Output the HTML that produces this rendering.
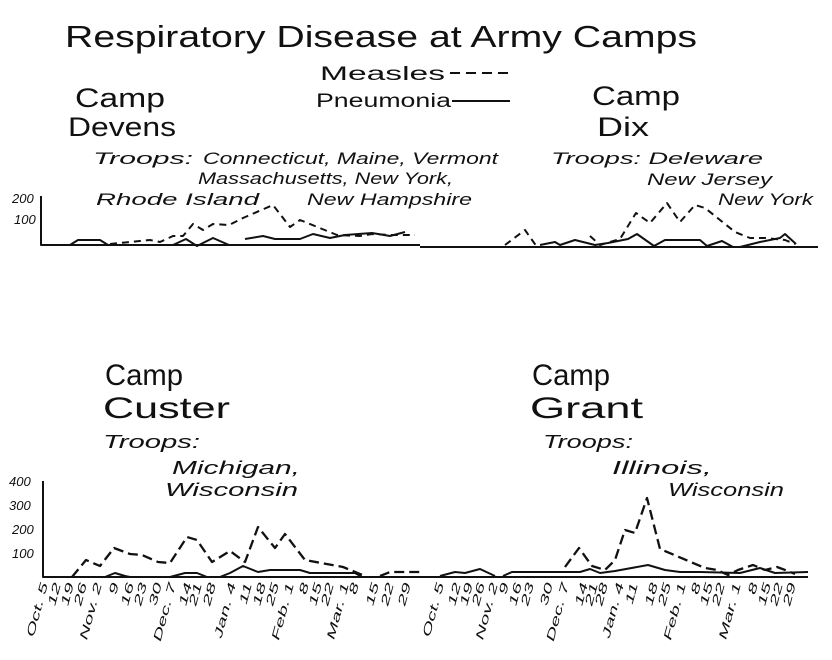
<!DOCTYPE html>
<html><head><style>
body{margin:0;background:#fff}
svg{display:block}
text{font-family:"Liberation Sans",sans-serif;fill:#111}
.it{font-style:italic}
</style></head><body>
<svg width="832" height="660" viewBox="0 0 832 660" xmlns="http://www.w3.org/2000/svg">
<text x="65" y="47" font-size="31" textLength="632" lengthAdjust="spacingAndGlyphs">Respiratory Disease at Army Camps</text>
<text x="320" y="80" font-size="19" textLength="125" lengthAdjust="spacingAndGlyphs">Measles</text>
<line x1="450" y1="73" x2="510" y2="73" stroke="#111" stroke-width="2" stroke-dasharray="10,6"/>
<text x="316" y="107" font-size="19" textLength="135" lengthAdjust="spacingAndGlyphs">Pneumonia</text>
<line x1="452" y1="101" x2="510" y2="101" stroke="#111" stroke-width="2"/>

<text x="75" y="107" font-size="27" textLength="90" lengthAdjust="spacingAndGlyphs">Camp</text>
<text x="68" y="136" font-size="27" textLength="108" lengthAdjust="spacingAndGlyphs">Devens</text>
<text x="592" y="105" font-size="27" textLength="88" lengthAdjust="spacingAndGlyphs">Camp</text>
<text x="597" y="136" font-size="27" textLength="52" lengthAdjust="spacingAndGlyphs">Dix</text>

<g font-size="17">
<text x="93" y="164" class="it" textLength="100" lengthAdjust="spacingAndGlyphs">Troops:</text>
<text x="203" y="164" class="it" textLength="295" lengthAdjust="spacingAndGlyphs">Connecticut, Maine, Vermont</text>
<text x="198" y="184" class="it" textLength="255" lengthAdjust="spacingAndGlyphs">Massachusetts, New York,</text>
<text x="96" y="205" class="it" textLength="163" lengthAdjust="spacingAndGlyphs">Rhode Island</text>
<text x="307" y="205" class="it" textLength="165" lengthAdjust="spacingAndGlyphs">New Hampshire</text>
<text x="551" y="164" class="it" textLength="212" lengthAdjust="spacingAndGlyphs">Troops: Deleware</text>
<text x="647" y="185" class="it" textLength="125" lengthAdjust="spacingAndGlyphs">New Jersey</text>
<text x="718" y="205" class="it" textLength="95" lengthAdjust="spacingAndGlyphs">New York</text>
</g>
<g font-size="13">
<text x="12" y="203" class="it">200</text>
<text x="14" y="224" class="it">100</text>
<text x="9" y="486" class="it">400</text>
<text x="9" y="510" class="it">300</text>
<text x="12" y="534" class="it">200</text>
<text x="12" y="558" class="it">100</text>
</g>

<text x="105" y="385" font-size="30" textLength="78" lengthAdjust="spacingAndGlyphs">Camp</text>
<text x="103" y="418" font-size="30" textLength="127" lengthAdjust="spacingAndGlyphs">Custer</text>
<text x="532" y="385" font-size="30" textLength="78" lengthAdjust="spacingAndGlyphs">Camp</text>
<text x="530" y="418" font-size="30" textLength="113" lengthAdjust="spacingAndGlyphs">Grant</text>
<g font-size="18">
<text x="103" y="448" class="it" textLength="97" lengthAdjust="spacingAndGlyphs">Troops:</text>
<text x="172" y="474" class="it" textLength="128" lengthAdjust="spacingAndGlyphs">Michigan,</text>
<text x="165" y="496" class="it" textLength="133" lengthAdjust="spacingAndGlyphs">Wisconsin</text>
<text x="543" y="448" class="it" textLength="90" lengthAdjust="spacingAndGlyphs">Troops:</text>
<text x="612" y="474" class="it" textLength="100" lengthAdjust="spacingAndGlyphs">Illinois,</text>
<text x="668" y="496" class="it" textLength="116" lengthAdjust="spacingAndGlyphs">Wisconsin</text>
</g>

<g stroke="#111" fill="none" stroke-width="2" stroke-linejoin="round">
<polyline points="41,196 41,245 420,245"/>
<line x1="420" y1="247" x2="818" y2="247"/>
<polyline points="43,481 43,577 420,577"/>
<line x1="420" y1="577" x2="808" y2="577"/>
<polyline points="70,245 78,240 100,240 108,245"/>
<polyline points="173,245 186,239 197,246 213,238 229,245"/>
<polyline points="245,239 263,236 275,239 300,239 313,234 330,238 345,235 372,233 390,236 405,232"/>
<polyline stroke-dasharray="7,5" points="110,244 150,240 160,242 173,236 183,236 193,224 203,230 213,224 229,225 243,218 273,205 290,227 300,220 337,235 360,236 372,234 390,235 415,235"/>
<polyline points="540,245 555,242 560,245 575,240 595,245 608,243 628,239 637,234 654,246 665,240 700,240 707,246 722,241 733,247 740,247 760,242 780,238 785,234 796,244"/>
<polyline stroke-dasharray="7,5" points="505,245 525,230 537,247"/>
<polyline stroke-dasharray="7,5" points="590,236 600,245 620,239 636,213 650,223 667,203 680,222 695,205 705,208 720,220 735,232 750,238 765,238 785,240 795,244"/>
<polyline points="105,577 115,573 125,576 130,577"/>
<polyline points="170,577 185,573 197,573 207,577 220,577 230,573 243,566 258,572 270,570 300,570 310,573 355,573 362,577"/>
<polyline stroke-width="2.3" stroke-dasharray="10,5" points="72,577 86,560 100,566 114,548 130,554 142,555 158,562 170,563 187,537 197,540 212,562 230,551 245,562 258,527 275,548 285,534 305,560 343,567 365,576"/>
<polyline stroke-width="2.3" stroke-dasharray="10,5" points="380,576 390,572 420,572"/>
<polyline points="440,576 455,572 465,573 480,569 495,576"/>
<polyline points="503,576 512,572 580,572 590,569 600,573 615,571 648,565 665,570 680,572 700,572 740,573 760,568 775,573 808,572"/>
<polyline stroke-width="2.3" stroke-dasharray="10,5" points="565,567 579,548 592,566 605,570 615,560 625,530 635,533 647,498 660,549 705,568 717,570 728,575 738,570 753,565 765,570 777,567 788,571 795,574"/>
</g>

<g font-size="16">
<text class="it" transform="translate(48,584) rotate(-75) scale(1.3,0.72)" text-anchor="end">Oct. 5</text>
<text class="it" transform="translate(61,584) rotate(-75) scale(1.3,0.72)" text-anchor="end">12</text>
<text class="it" transform="translate(74,584) rotate(-75) scale(1.3,0.72)" text-anchor="end">19</text>
<text class="it" transform="translate(87,584) rotate(-75) scale(1.3,0.72)" text-anchor="end">26</text>
<text class="it" transform="translate(102,584) rotate(-75) scale(1.3,0.72)" text-anchor="end">Nov. 2</text>
<text class="it" transform="translate(119,584) rotate(-75) scale(1.3,0.72)" text-anchor="end">9</text>
<text class="it" transform="translate(134,584) rotate(-75) scale(1.3,0.72)" text-anchor="end">16</text>
<text class="it" transform="translate(147,584) rotate(-75) scale(1.3,0.72)" text-anchor="end">23</text>
<text class="it" transform="translate(162,584) rotate(-75) scale(1.3,0.72)" text-anchor="end">30</text>
<text class="it" transform="translate(176,584) rotate(-75) scale(1.3,0.72)" text-anchor="end">Dec. 7</text>
<text class="it" transform="translate(192,584) rotate(-75) scale(1.3,0.72)" text-anchor="end">14</text>
<text class="it" transform="translate(202,584) rotate(-75) scale(1.3,0.72)" text-anchor="end">21</text>
<text class="it" transform="translate(216,584) rotate(-75) scale(1.3,0.72)" text-anchor="end">28</text>
<text class="it" transform="translate(236,584) rotate(-75) scale(1.3,0.72)" text-anchor="end">Jan. 4</text>
<text class="it" transform="translate(252,584) rotate(-75) scale(1.3,0.72)" text-anchor="end">11</text>
<text class="it" transform="translate(266,584) rotate(-75) scale(1.3,0.72)" text-anchor="end">18</text>
<text class="it" transform="translate(279,584) rotate(-75) scale(1.3,0.72)" text-anchor="end">25</text>
<text class="it" transform="translate(294,584) rotate(-75) scale(1.3,0.72)" text-anchor="end">Feb. 1</text>
<text class="it" transform="translate(309,584) rotate(-75) scale(1.3,0.72)" text-anchor="end">8</text>
<text class="it" transform="translate(322,584) rotate(-75) scale(1.3,0.72)" text-anchor="end">15</text>
<text class="it" transform="translate(334,584) rotate(-75) scale(1.3,0.72)" text-anchor="end">22</text>
<text class="it" transform="translate(349,584) rotate(-75) scale(1.3,0.72)" text-anchor="end">Mar. 1</text>
<text class="it" transform="translate(359,584) rotate(-75) scale(1.3,0.72)" text-anchor="end">8</text>
<text class="it" transform="translate(379,584) rotate(-75) scale(1.3,0.72)" text-anchor="end">15</text>
<text class="it" transform="translate(394,584) rotate(-75) scale(1.3,0.72)" text-anchor="end">22</text>
<text class="it" transform="translate(411,584) rotate(-75) scale(1.3,0.72)" text-anchor="end">29</text>

<text class="it" transform="translate(444,584) rotate(-75) scale(1.3,0.72)" text-anchor="end">Oct. 5</text>
<text class="it" transform="translate(461,584) rotate(-75) scale(1.3,0.72)" text-anchor="end">12</text>
<text class="it" transform="translate(473,584) rotate(-75) scale(1.3,0.72)" text-anchor="end">19</text>
<text class="it" transform="translate(485,584) rotate(-75) scale(1.3,0.72)" text-anchor="end">26</text>
<text class="it" transform="translate(498,584) rotate(-75) scale(1.3,0.72)" text-anchor="end">Nov. 2</text>
<text class="it" transform="translate(509,584) rotate(-75) scale(1.3,0.72)" text-anchor="end">9</text>
<text class="it" transform="translate(522,584) rotate(-75) scale(1.3,0.72)" text-anchor="end">16</text>
<text class="it" transform="translate(534,584) rotate(-75) scale(1.3,0.72)" text-anchor="end">23</text>
<text class="it" transform="translate(553,584) rotate(-75) scale(1.3,0.72)" text-anchor="end">30</text>
<text class="it" transform="translate(569,584) rotate(-75) scale(1.3,0.72)" text-anchor="end">Dec. 7</text>
<text class="it" transform="translate(588,584) rotate(-75) scale(1.3,0.72)" text-anchor="end">14</text>
<text class="it" transform="translate(598,584) rotate(-75) scale(1.3,0.72)" text-anchor="end">21</text>
<text class="it" transform="translate(608,584) rotate(-75) scale(1.3,0.72)" text-anchor="end">28</text>
<text class="it" transform="translate(624,584) rotate(-75) scale(1.3,0.72)" text-anchor="end">Jan. 4</text>
<text class="it" transform="translate(638,584) rotate(-75) scale(1.3,0.72)" text-anchor="end">11</text>
<text class="it" transform="translate(658,584) rotate(-75) scale(1.3,0.72)" text-anchor="end">18</text>
<text class="it" transform="translate(671,584) rotate(-75) scale(1.3,0.72)" text-anchor="end">25</text>
<text class="it" transform="translate(686,584) rotate(-75) scale(1.3,0.72)" text-anchor="end">Feb. 1</text>
<text class="it" transform="translate(701,584) rotate(-75) scale(1.3,0.72)" text-anchor="end">8</text>
<text class="it" transform="translate(713,584) rotate(-75) scale(1.3,0.72)" text-anchor="end">15</text>
<text class="it" transform="translate(725,584) rotate(-75) scale(1.3,0.72)" text-anchor="end">22</text>
<text class="it" transform="translate(741,584) rotate(-75) scale(1.3,0.72)" text-anchor="end">Mar. 1</text>
<text class="it" transform="translate(758,584) rotate(-75) scale(1.3,0.72)" text-anchor="end">8</text>
<text class="it" transform="translate(771,584) rotate(-75) scale(1.3,0.72)" text-anchor="end">15</text>
<text class="it" transform="translate(783,584) rotate(-75) scale(1.3,0.72)" text-anchor="end">22</text>
<text class="it" transform="translate(796,584) rotate(-75) scale(1.3,0.72)" text-anchor="end">29</text>
</g>
</svg>
</body></html>
